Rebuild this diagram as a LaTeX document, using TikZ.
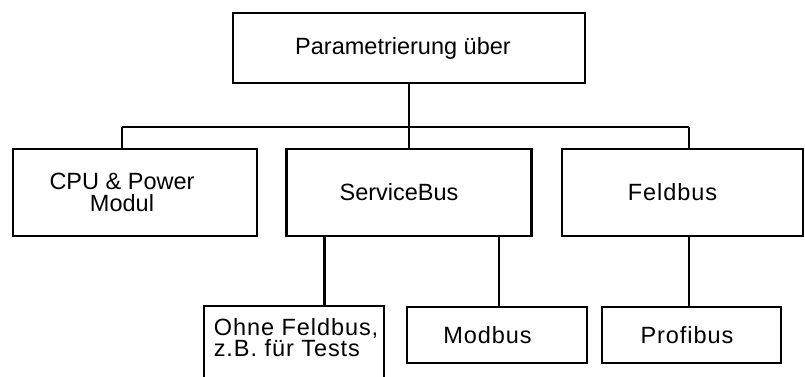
\documentclass[tikz,border=0pt]{standalone}
\usepackage{fontspec}
\setmainfont{Liberation Sans}
\newfontfamily\widefont[LetterSpace=4]{Liberation Sans}
\tikzset{
  box/.style={draw, line width=2.8pt, inner sep=0pt, minimum width=#1},
  boxtext/.style={font=\fontsize{23.5}{22}\selectfont, align=center, inner sep=0pt},
  widetext/.style={boxtext, font=\widefont\fontsize{23.5}{21}\selectfont},
  link/.style={line width=2.8pt}
}
\begin{document}
\begin{tikzpicture}[x=1pt,y=-1pt]
        \useasboundingbox (0,0) rectangle (805,376);
        %% Top
        \node[box=352pt, minimum height=70pt,
              label={[boxtext, xshift=-6pt]center:Parametrierung über}] (top) at (409,48) {};
        %% Middle row
        \node[box=244pt, minimum height=87pt,
              label={[boxtext, xshift=-13pt]center:CPU \& Power\\Modul}] (cpu) at (135,192.5) {};
        \node[box=245pt, minimum height=87pt,
              label={[boxtext, xshift=-10pt]center:ServiceBus}] (service) at (409,192.5) {};
        \node[box=241pt, minimum height=87pt,
              label={[widetext, xshift=-10pt]center:Feldbus}] (feld) at (682.5,192.5) {};
        %% Bottom row
        \node[box=180pt, minimum height=90pt,
              label={[widetext, align=left, anchor=north west, xshift=11pt, yshift=-13.5pt]north west:Ohne Feldbus,\\z.B. für Tests}] (ohne) at (294,351) {};
        \node[box=180pt, minimum height=56pt,
              label={[widetext, xshift=-9.5pt]center:Modbus}] (modbus) at (497,335) {};
        \node[box=179pt, minimum height=56pt,
              label={[widetext, xshift=-4.5pt]center:Profibus}] (profibus) at (691.5,335) {};
        %% Bus
        \coordinate (busL) at (122,127);
        \coordinate (busR) at (689,127);
        \draw[link] (busL) -- (busR);
        \draw[link] (top.south) -- (service.north);
        \draw[link] (busL) -- (busL |- cpu.north);
        \draw[link] (busR) -- (busR |- feld.north);
        %% Drops
        \draw[link] ([xshift=-61pt]ohne.north east) -- ([xshift=-61pt]ohne.north east |- service.south);
        \draw[link] ([xshift=2pt]modbus.north) -- ([xshift=2pt]modbus.north |- service.south);
        \draw[link] (busR |- feld.south) -- (busR |- profibus.north);
    \end{tikzpicture}
\end{document}
